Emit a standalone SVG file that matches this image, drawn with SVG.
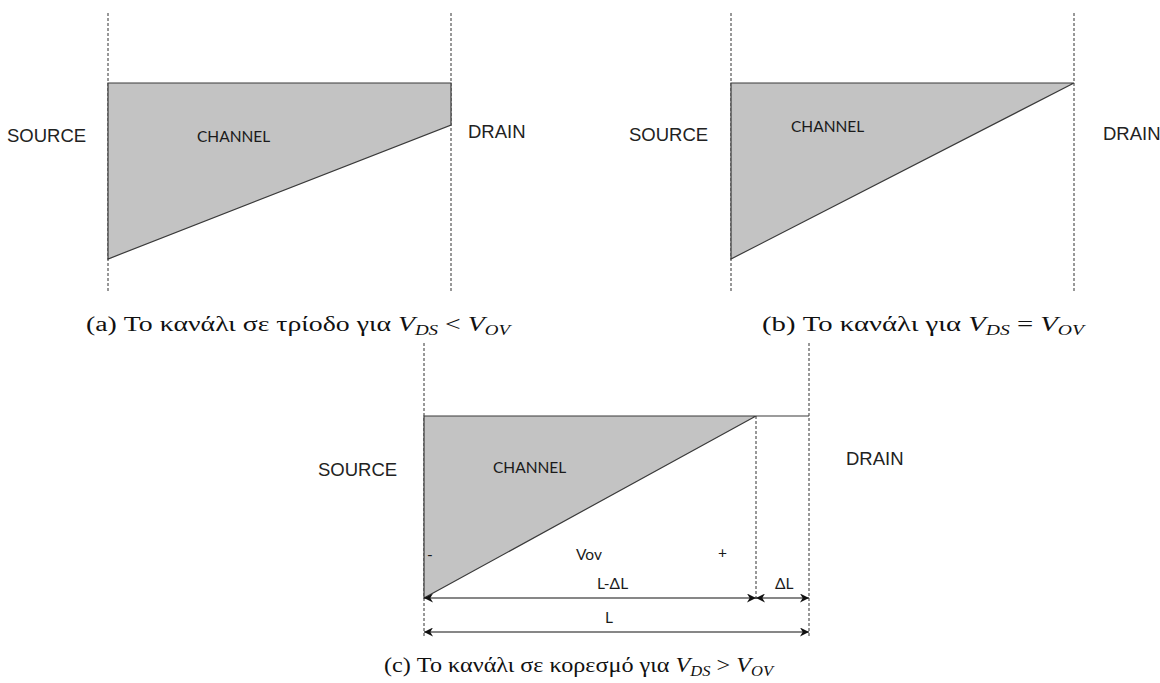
<svg xmlns="http://www.w3.org/2000/svg" width="1160" height="683" viewBox="0 0 1160 683">
<style>
.dash{stroke:#333;stroke-width:1;stroke-dasharray:3,2;fill:none}
.ch{fill:#c3c3c3;stroke:#3a3a3a;stroke-width:1.2}
.ln{stroke:#3a3a3a;stroke-width:1.2;fill:none}
.arw{stroke:#111;stroke-width:1.2;fill:none;marker-start:url(#ah);marker-end:url(#ah)}
.lbl{font-family:"Liberation Sans",Arial,sans-serif;font-size:18.5px;fill:#222}
.cal{font-family:Lato,"Open Sans",sans-serif;font-size:15.5px;fill:#1a1a1a}
.cap{font-family:"Liberation Serif","DejaVu Serif",serif;font-size:20.5px;fill:#111}
.it{font-style:italic}
.sub{font-style:italic;font-size:14px}
</style>
<defs>
<marker id="ah" viewBox="0 0 10 10" refX="10" refY="5" markerWidth="9" markerHeight="9" markerUnits="userSpaceOnUse" orient="auto-start-reverse">
<path d="M0,0 L10,5 L0,10 L3,5 z" fill="#111"/>
</marker>
</defs>

<g id="panel-a">
<line class="dash" x1="108" y1="13" x2="108" y2="292"/>
<line class="dash" x1="451" y1="13" x2="451" y2="292"/>
<polygon class="ch" points="108,83 451,83 451,125 108,259"/>
<text class="lbl" x="7" y="142">SOURCE</text>
<text class="lbl" x="468" y="138">DRAIN</text>
<text class="cal" x="197" y="142">CHANNEL</text>
<text class="cap" x="86" y="331" textLength="424" lengthAdjust="spacingAndGlyphs">(a) Το κανάλι σε τρίοδο για <tspan class="it">V</tspan><tspan class="sub" dy="4">DS</tspan><tspan dy="-4"> &lt; </tspan><tspan class="it">V</tspan><tspan class="sub" dy="4">OV</tspan></text>
</g>

<g id="panel-b">
<line class="dash" x1="731" y1="13" x2="731" y2="292"/>
<line class="dash" x1="1074" y1="13" x2="1074" y2="292"/>
<polygon class="ch" points="731,83 1074,83 731,259"/>
<text class="lbl" x="629" y="141">SOURCE</text>
<text class="lbl" x="1103" y="140">DRAIN</text>
<text class="cal" x="791" y="132">CHANNEL</text>
<text class="cap" x="762" y="331" textLength="322" lengthAdjust="spacingAndGlyphs">(b) Το κανάλι για <tspan class="it">V</tspan><tspan class="sub" dy="4">DS</tspan><tspan dy="-4"> = </tspan><tspan class="it">V</tspan><tspan class="sub" dy="4">OV</tspan></text>
</g>

<g id="panel-c">
<line class="dash" x1="424" y1="343" x2="424" y2="636"/>
<line class="dash" x1="756" y1="416" x2="756" y2="600"/>
<line class="dash" x1="809" y1="343" x2="809" y2="636"/>
<polygon class="ch" points="424,416 756,416 424,598"/>
<line class="ln" x1="756" y1="416" x2="809" y2="416"/>
<text class="lbl" x="318" y="476">SOURCE</text>
<text class="lbl" x="846" y="465">DRAIN</text>
<text class="cal" x="493" y="473">CHANNEL</text>
<text class="cal" x="427" y="560">-</text>
<text class="cal" x="576" y="560">Vov</text>
<text class="cal" x="718" y="558">+</text>
<text class="cal" x="597" y="589">L-ΔL</text>
<text class="cal" x="775" y="589">ΔL</text>
<text class="cal" x="605" y="623">L</text>
<text class="cap" x="384" y="672" textLength="389" lengthAdjust="spacingAndGlyphs">(c) Το κανάλι σε κορεσμό για <tspan class="it">V</tspan><tspan class="sub" dy="4">DS</tspan><tspan dy="-4"> &gt; </tspan><tspan class="it">V</tspan><tspan class="sub" dy="4">OV</tspan></text>
</g>

<g id="connectors">
<line class="arw" x1="424" y1="598" x2="756" y2="598"/>
<line class="arw" x1="756" y1="598" x2="809" y2="598"/>
<line class="arw" x1="424" y1="632" x2="809" y2="632"/>
</g>
</svg>
